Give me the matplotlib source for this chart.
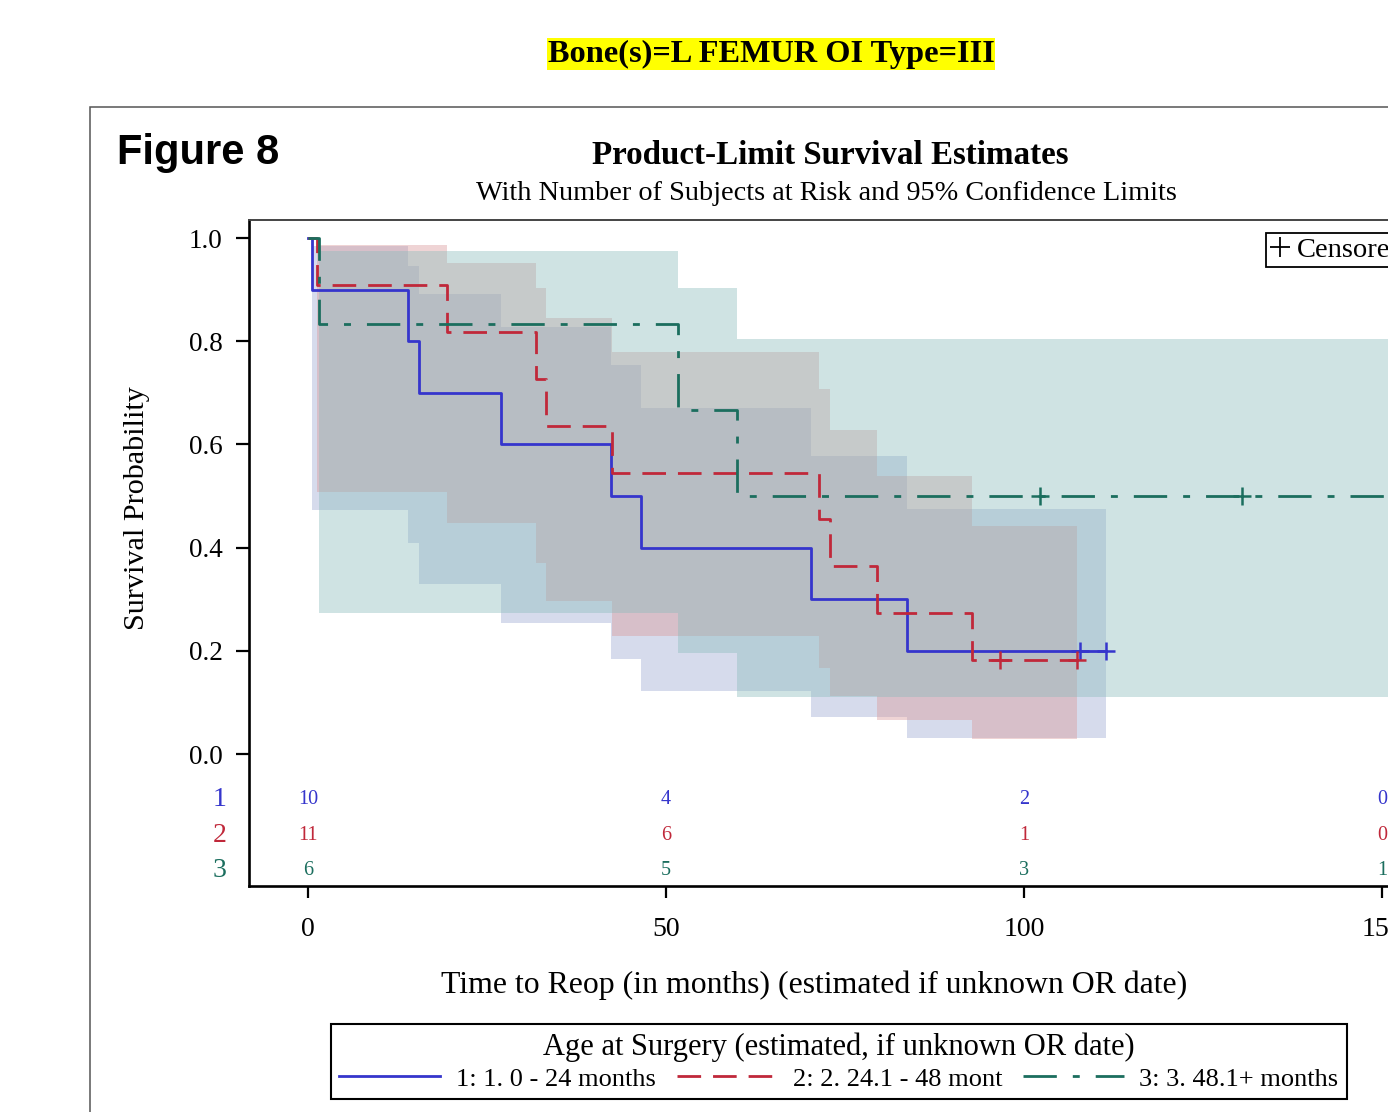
import matplotlib
matplotlib.use('Agg')
import matplotlib.pyplot as plt
from matplotlib.lines import Line2D
from matplotlib.patches import Rectangle

plt.rcParams['font.family'] = ['Liberation Serif', 'DejaVu Serif']
plt.rcParams['lines.scale_dashes'] = False

# ---------------- data ----------------
group_labels = ["1: 1. 0 - 24 months", "2: 2. 24.1 - 48 mont", "3: 3. 48.1+ months"]

g1_times = [0, 0.5, 13.9, 15.5, 27.0, 42.3, 46.5, 70.3, 83.7]
g1_surv = [1.0, 0.9, 0.8, 0.7, 0.6, 0.5, 0.4, 0.3, 0.2]
g1_lower = [1.0, 0.473, 0.409, 0.329, 0.253, 0.184, 0.123, 0.071, 0.031]
g1_upper = [1.0, 0.985, 0.946, 0.892, 0.827, 0.753, 0.670, 0.578, 0.475]
g1_cens = [107.8, 111.5]

g2_times = [0, 1.3, 19.4, 31.8, 33.2, 42.5, 71.3, 72.9, 79.4, 92.8]
g2_surv = [1.0, 0.909, 0.818, 0.727, 0.636, 0.545, 0.455, 0.364, 0.273, 0.182]
g2_lower = [1.0, 0.508, 0.447, 0.371, 0.297, 0.229, 0.167, 0.112, 0.065, 0.029]
g2_upper = [1.0, 0.987, 0.951, 0.903, 0.845, 0.780, 0.707, 0.627, 0.539, 0.442]
g2_cens = [96.6, 107.4]

g3_times = [0, 1.5, 51.7, 59.9]
g3_surv = [1.0, 0.833, 0.667, 0.5]
g3_lower = [1.0, 0.273, 0.195, 0.111]
g3_upper = [1.0, 0.975, 0.904, 0.804]
g3_cens = [102.3, 130.4, 162.0]

risk_times = [0, 50, 100, 150]
g1_risk = [10, 4, 2, 0]
g2_risk = [11, 6, 1, 0]
g3_risk = [6, 5, 3, 1]

# ---------------- styles ----------------
line_colors = ['#3535cc', '#c0283a', '#1b6e5e']
fill_colors = ['#9aa6d0', '#d99596', '#89bbbb']
fill_alpha = 0.4
dashes = [None, (17, 8.6), (24, 11.5, 5, 11.5)]

W, H = 1388, 1112
fig = plt.figure(figsize=(W / 100, H / 100), dpi=100)

def fx(px):
    return px / W

def fy(py):
    return 1 - py / H

# axes (extends past the right edge of the figure, as in the reference)
ax_left, ax_right, ax_top, ax_bottom = 249, 1441, 220, 886
ax = fig.add_axes([fx(ax_left), fy(ax_bottom), (ax_right - ax_left) / W, (ax_bottom - ax_top) / H])
ax.set_xlim(-8.24, 158.24)
ax.set_ylim(-0.2558, 1.0349)

groups = [
    (g1_times, g1_surv, g1_lower, g1_upper, g1_cens),
    (g2_times, g2_surv, g2_lower, g2_upper, g2_cens),
    (g3_times, g3_surv, g3_lower, g3_upper, g3_cens),
]

# confidence bands
for i, (t, s, lo, up, cens) in enumerate(groups):
    end = max(cens)
    x = list(t) + [end]
    ax.fill_between(x, list(lo) + [lo[-1]], list(up) + [up[-1]], step='post',
                    color=fill_colors[i], alpha=fill_alpha, lw=0, zorder=1)

handles = []
for i, (t, s, lo, up, cens) in enumerate(groups):
    end = max(cens)
    x = list(t) + [end]
    y = list(s) + [s[-1]]
    ln, = ax.step(x, y, where='post', color=line_colors[i], lw=2.0, zorder=3)
    if dashes[i] is not None:
        ln.set_dashes(dashes[i])
    handles.append(ln)
    cs = []
    for c in cens:
        k = max(j for j in range(len(t)) if t[j] <= c)
        cs.append(s[k])
    ax.plot(cens, cs, ls='none', marker='+', ms=13, mew=1.8, color=line_colors[i], zorder=4)

# at-risk table inside the axes
risk_rows = [g1_risk, g2_risk, g3_risk]
row_y = [-0.089, -0.157, -0.225]
for i, row in enumerate(risk_rows):
    for t, n in zip(risk_times, row):
        ax.text(t, row_y[i], str(n), ha='center', va='center', fontsize=14.5,
                color=line_colors[i])
    ax.text(-12.4, row_y[i], str(i + 1), ha='center', va='center', fontsize=20,
            color=line_colors[i], clip_on=False)

# axes styling
ax.set_xticks(risk_times)
ax.set_xticklabels([str(v) for v in risk_times], fontsize=20)
yt = [0.0, 0.2, 0.4, 0.6, 0.8, 1.0]
ax.set_yticks(yt)
ax.set_yticklabels(['%.1f' % v for v in yt], fontsize=19.5)
ax.tick_params(axis='x', direction='out', length=8.6, width=1.6, pad=14)
ax.tick_params(axis='y', direction='out', length=9.4, width=1.6, pad=9.5)
for side in ['left', 'bottom']:
    ax.spines[side].set_linewidth(1.9)
    ax.spines[side].set_color('black')
for side in ['top', 'right']:
    ax.spines[side].set_linewidth(1.4)
    ax.spines[side].set_color('#444444')

# censored legend
cens_handle = Line2D([], [], ls='none', marker='+', ms=14, mew=1.3, color='black')
leg_c = ax.legend(handles=[cens_handle], labels=['Censored'], loc='upper left',
                  bbox_to_anchor=(fx(1266), fy(233)), bbox_transform=fig.transFigure,
                  fontsize=20.5, fancybox=False, edgecolor='black', framealpha=1,
                  handlelength=0.7, handletextpad=0.25, borderpad=0.15, borderaxespad=0)
leg_c.get_frame().set_linewidth(1.3)

# group legend
leg = fig.legend(handles=handles, labels=group_labels, ncol=3, loc='center',
                 bbox_to_anchor=(fx(839), fy(1061.5)),
                 title='Age at Surgery (estimated, if unknown OR date)', title_fontsize=22,
                 fontsize=19, fancybox=False, edgecolor='black', framealpha=1,
                 handlelength=3.8, handletextpad=0.6, columnspacing=0.8,
                 borderpad=0.32, labelspacing=0.2)
leg.get_frame().set_linewidth(1.5)

# texts
fig.text(fx(137), fy(508), 'Survival Probability', rotation=90, ha='center', va='center', fontsize=21.7)
fig.text(fx(814), fy(985), 'Time to Reop (in months) (estimated if unknown OR date)',
         ha='center', va='center', fontsize=22.9)
fig.text(fx(830), fy(155), 'Product-Limit Survival Estimates', ha='center', va='center',
         fontsize=23.8, fontweight='bold')
fig.text(fx(826), fy(193), 'With Number of Subjects at Risk and 95% Confidence Limits',
         ha='center', va='center', fontsize=20.3)
fig.text(fx(117), fy(153), 'Figure 8', ha='left', va='center', fontsize=30, fontweight='bold',
         family=['Liberation Sans', 'DejaVu Sans'])
fig.text(fx(771), fy(54), 'Bone(s)=L FEMUR OI Type=III', ha='center', va='center',
         fontsize=23.3, fontweight='bold',
         bbox=dict(facecolor='#ffff00', edgecolor='none', boxstyle='square,pad=0.03'))

# outer frame
fig.patches.append(Rectangle((fx(90), -0.05), 1.0, fy(107) + 0.05, transform=fig.transFigure,
                             fill=False, edgecolor='#555555', lw=1.1))

fig.savefig('out.png', dpi=100)
